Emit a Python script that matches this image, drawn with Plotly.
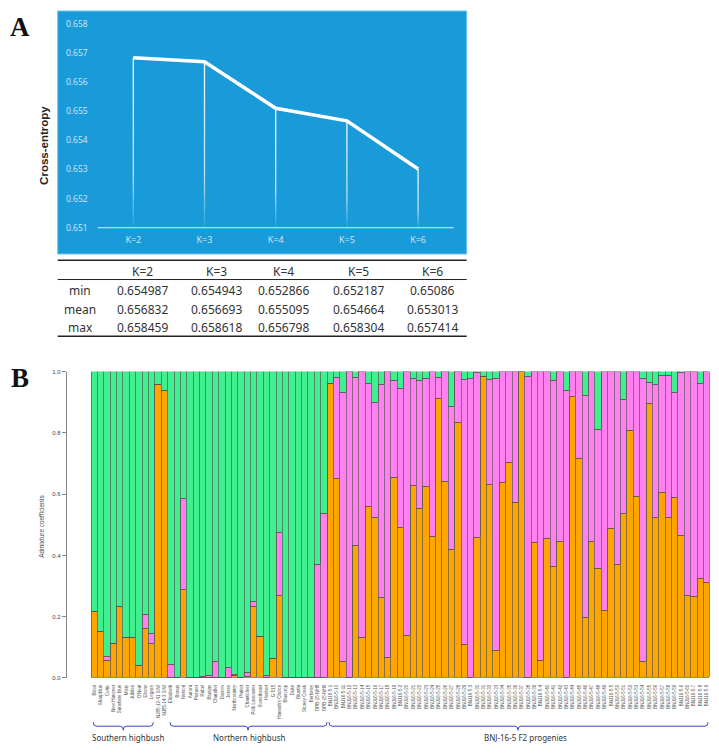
import plotly.graph_objects as go

# panel A values
k_labels = ["K=2", "K=3", "K=4", "K=5", "K=6"]
min_values = [0.654987, 0.654943, 0.652866, 0.652187, 0.65086]
mean_values = [0.656832, 0.656693, 0.655095, 0.654664, 0.653013]
max_values = [0.658459, 0.658618, 0.656798, 0.658304, 0.657414]
entropy_ticks = [0.651, 0.652, 0.653, 0.654, 0.655, 0.656, 0.657, 0.658]

# panel B values, one entry per accession
accessions = [
    "Biloxi", "Sharpblue", "Celtic", "New Hanover", "Sunshine blue", "Misty",
    "Jubilee", "O'Neal", "Ebony", "Legacy", "NJ85-12-41 S/W", "NJ85-14-3 S/W",
    "Elizabeth", "Bonus", "Nelson", "Aurora", "Pioneer", "Rubel", "Bluejay",
    "Chandler", "Darrow", "Jersey", "Northcountry", "Patriot", "Chanticleer",
    "Polk Lancaster", "Sweetheart", "Herbert", "G-515", "Hannah's Choice",
    "Bluecrop", "Duke", "Bluetta", "Stoney Creek", "Berkeley", "OPB-15-NH8",
    "OPB-15-NH9",
    "BNJ16-5-1", "BNJ16-5-10", "BNJ16-5-11", "BNJ16-5-12", "BNJ16-5-13",
    "BNJ16-5-14", "BNJ16-5-15", "BNJ16-5-16", "BNJ16-5-17", "BNJ16-5-18",
    "BNJ16-5-19", "BNJ16-5-2", "BNJ16-5-20", "BNJ16-5-21", "BNJ16-5-22",
    "BNJ16-5-23", "BNJ16-5-24", "BNJ16-5-25", "BNJ16-5-26", "BNJ16-5-27",
    "BNJ16-5-28", "BNJ16-5-29", "BNJ16-5-3", "BNJ16-5-30", "BNJ16-5-31",
    "BNJ16-5-32", "BNJ16-5-33", "BNJ16-5-34", "BNJ16-5-35", "BNJ16-5-36",
    "BNJ16-5-37", "BNJ16-5-38", "BNJ16-5-39", "BNJ16-5-4", "BNJ16-5-40",
    "BNJ16-5-41", "BNJ16-5-42", "BNJ16-5-43", "BNJ16-5-44", "BNJ16-5-45",
    "BNJ16-5-46", "BNJ16-5-47", "BNJ16-5-48", "BNJ16-5-49", "BNJ16-5-5",
    "BNJ16-5-50", "BNJ16-5-51", "BNJ16-5-52", "BNJ16-5-53", "BNJ16-5-54",
    "BNJ16-5-55", "BNJ16-5-56", "BNJ16-5-57", "BNJ16-5-58", "BNJ16-5-59",
    "BNJ16-5-6", "BNJ16-5-60", "BNJ16-5-7", "BNJ16-5-8", "BNJ16-5-9",
]
orange_share = [
    .217, .15, .055, .113, .232, .132, .13, .038, .159, .113, .958, .938,
    0, 0, .288, 0, 0, .002, .002, .002, 0, 0, .008, 0, .003, .233, .133, 0,
    .062, .269, 0, 0, 0, 0, 0, 0, 0,
    .96, .649, .054, 0, .432, .13, .559, .522, .262, .065, .654, .492, .136,
    .627, .551, .624, .462, .912, .64, .418, .835, .108, 0, .457, .985, .632,
    .087, .637, .702, .572, 1.0, 0, .441, .055, .454, .362, .446, 0, .919,
    .716, .198, .444, .355, .22, .486, .368, .536, .807, .592, .052, .894,
    .522, .605, .524, .59, .464, .268, .266, .324, .311,
]
# top of the pink segment, green fills the rest up to 1
pink_top = [
    .217, .15, .068, .113, .232, .132, .13, .038, .207, .143, .958, .938,
    .042, 0, .585, 0, 0, .003, .008, .052, 0, .032, .009, 0, .016, .248, .133,
    .008, .062, .473, 0, 0, 0, 0, 0, .369, .535,
    .96, .982, .932, 1.0, .982, 1.0, .962, .90, .959, 1.0, .97, .943, 1.0,
    .978, .971, .977, 1.0, .982, 1.0, .886, 1.0, .975, .976, .998, .985, .973,
    .978, 1.0, 1.0, 1.0, 1.0, .984, 1.0, 1.0, 1.0, .969, 1.0, .938, 1.0,
    1.0, .92, 1.0, .809, 1.0, 1.0, 1.0, .908, 1.0, 1.0, .978, .965,
    .957, .988, .987, .933, .996, 1.0, 1.0, .962, 1.0,
]
admix_ticks = [0.0, 0.2, 0.4, 0.6, 0.8, 1.0]

# the page keeps its 8px body margin, so the figure starts at (8, 8)
PAGE_MARGIN = 8
WIDTH = 719 - PAGE_MARGIN
HEIGHT = 753 - PAGE_MARGIN


def px(x):
    return (x - PAGE_MARGIN) / WIDTH


def py(y):
    return 1 - (y - PAGE_MARGIN) / HEIGHT


pink_share = [t - o for t, o in zip(pink_top, orange_share)]
green_share = [1 - t for t in pink_top]

fig = go.Figure()

# panel A: the line and the fading drop lines
for i, v in enumerate(mean_values):
    fig.add_trace(go.Scatter(
        x=[i - 0.009, i + 0.009, i + 0.009, i - 0.009, i - 0.009],
        y=[v, v, entropy_ticks[0], entropy_ticks[0], v],
        mode="none",
        fill="toself",
        fillgradient={
            "type": "vertical",
            "colorscale": [[0, "rgba(255,255,255,0.05)"], [0.3, "rgba(255,255,255,0.7)"],
                           [1, "rgba(255,255,255,0.95)"]],
        },
        showlegend=False,
        xaxis="x", yaxis="y",
    ))

fig.add_trace(go.Scatter(
    x=list(range(len(k_labels))), y=mean_values,
    mode="lines", line={"color": "white", "width": 3.5},
    showlegend=False, xaxis="x", yaxis="y",
))

# panel B: stacked bars
xs = list(range(len(accessions)))
for values, colour in [(orange_share, "#FFA500"), (pink_share, "#FF80EE"), (green_share, "#40F08E")]:
    fig.add_trace(go.Bar(
        x=xs, y=values, width=1,
        marker={"color": colour, "line": {"color": "rgba(85,85,85,0.85)", "width": 0.8}},
        showlegend=False, xaxis="x2", yaxis="y2",
    ))

shapes = []
# blue card behind panel A
shapes.append({"type": "rect", "xref": "paper", "yref": "paper", "layer": "below",
               "x0": px(57.7), "x1": px(466.7), "y0": py(253), "y1": py(8),
               "fillcolor": "#1A9BD9", "line": {"color": "#6FC1EA", "width": 1}})
# baseline in panel A
shapes.append({"type": "line", "xref": "x", "yref": "y", "x0": -0.5, "x1": 4.5,
               "y0": entropy_ticks[0], "y1": entropy_ticks[0],
               "line": {"color": "rgba(255,255,255,0.85)", "width": 1}})
# table rules
for y, w in [(259.3, 1.5), (278.7, 1), (336, 1.5)]:
    shapes.append({"type": "line", "xref": "paper", "yref": "paper",
                   "x0": px(57.7), "x1": px(466.7), "y0": py(y), "y1": py(y),
                   "line": {"color": "#222222", "width": w}})


def brace(x0, x1, xm):
    # curly brace under a group of accessions
    top, mid, tip = 725, 729, 733
    pts = [
        f"M {px(x0)},{py(top)}", f"Q {px(x0)},{py(mid)} {px(x0 + 3)},{py(mid)}",
        f"L {px(xm - 3)},{py(mid)}", f"Q {px(xm)},{py(mid)} {px(xm)},{py(tip)}",
        f"Q {px(xm)},{py(mid)} {px(xm + 3)},{py(mid)}",
        f"L {px(x1 - 3)},{py(mid)}", f"Q {px(x1)},{py(mid)} {px(x1)},{py(top)}",
    ]
    return {"type": "path", "xref": "paper", "yref": "paper", "path": " ".join(pts),
            "line": {"color": "#3A45C0", "width": 1}}


shapes.append(brace(93.3, 153.3, 123.3))
shapes.append(brace(170, 327, 248))
shapes.append(brace(329, 708, 518))

annotations = []


def add_text(x, y, text, size, colour="#333333", family="Noto Sans", angle=0, bold=False):
    annotations.append({
        "x": px(x), "y": py(y), "xref": "paper", "yref": "paper",
        "text": f"<b>{text}</b>" if bold else text,
        "showarrow": False, "xanchor": "center", "yanchor": "middle",
        "textangle": angle, "font": {"size": size, "color": colour, "family": family},
    })


add_text(20, 24, "A", 27, "#111111", "Liberation Serif", bold=True)
add_text(20, 378, "B", 27, "#111111", "Liberation Serif", bold=True)
add_text(44, 144, "Cross-entropy", 11.5, "#222222", "Liberation Sans", angle=-90, bold=True)
add_text(42, 528, "Admixture coefficients", 6.4, "#444444", "Liberation Sans", angle=-90)

# table
col_x = [142.7, 216.3, 283, 358, 432]
row_y = [289.5, 308.7, 327.3]
for x, k in zip(col_x, k_labels):
    add_text(x, 270.7, k, 12)
for y, name, row in zip(row_y, ["min", "mean", "max"], [min_values, mean_values, max_values]):
    add_text(80, y, name, 12)
    for x, v in zip(col_x, row):
        add_text(x, y, str(v), 12)

add_text(128, 740, "Southern highbush", 8)
add_text(249, 740, "Northern highbush", 8)
add_text(525.7, 740, "BNJ-16-5 F2 progenies", 8)

# axis ranges chosen so the ticks land where they sit in the reference
PX_PER_UNIT_A = 29.4 / 0.001
PX_PER_K = 71.2
BAR_PX = 618.7 / len(accessions)

fig.update_layout(
    width=WIDTH, height=HEIGHT,
    margin={"l": 0, "r": 0, "t": 0, "b": 0},
    paper_bgcolor="white", plot_bgcolor="rgba(0,0,0,0)",
    barmode="stack", bargap=0,
    font={"family": "Liberation Sans"},
    shapes=shapes, annotations=annotations,
    xaxis={
        "domain": [px(57.7), px(466.7)],
        "range": [(57.7 - 133.3) / PX_PER_K, (466.7 - 133.3) / PX_PER_K],
        "tickvals": list(range(len(k_labels))), "ticktext": k_labels,
        "ticklabelposition": "inside", "ticks": "inside", "ticklen": 8,
        "tickcolor": "rgba(0,0,0,0)", "showgrid": False, "zeroline": False,
        "showline": False,
        "tickfont": {"size": 9, "color": "rgba(255,255,255,0.8)", "family": "Open Sans"},
        "anchor": "y",
    },
    yaxis={
        "domain": [py(253), py(8)],
        "range": [0.651 - (253 - 226.5) / PX_PER_UNIT_A, 0.658 + (20.7 - 8) / PX_PER_UNIT_A],
        "tickvals": entropy_ticks, "tickformat": ".3f",
        "ticklabelposition": "inside", "ticks": "inside", "ticklen": 7,
        "tickcolor": "rgba(0,0,0,0)", "showgrid": False, "zeroline": False,
        "showline": False,
        "tickfont": {"size": 8.5, "color": "rgba(255,255,255,0.8)", "family": "Open Sans"},
        "anchor": "x",
    },
    xaxis2={
        "domain": [px(66.7), px(710)],
        "range": [-0.5 - (91.3 - 66.7) / BAR_PX, len(accessions) - 0.5],
        "tickvals": xs, "ticktext": accessions, "tickangle": -90,
        "ticks": "outside", "ticklen": 4, "tickcolor": "rgba(0,0,0,0)",
        "showgrid": False, "zeroline": False, "showline": False,
        "tickfont": {"size": 4.5, "color": "#555555", "family": "Liberation Sans"},
        "anchor": "y2",
    },
    yaxis2={
        "domain": [py(680.3), py(371.7)],
        "range": [0, 1],
        "tickvals": admix_ticks, "tickformat": ".1f",
        "ticks": "outside", "ticklen": 4, "tickcolor": "#888888", "tickwidth": 1,
        "showgrid": False, "zeroline": False, "showline": True,
        "linecolor": "#888888", "linewidth": 1,
        "tickfont": {"size": 6, "color": "#444444", "family": "Liberation Sans"},
        "anchor": "x2",
    },
)

fig.write_html("out.html")
